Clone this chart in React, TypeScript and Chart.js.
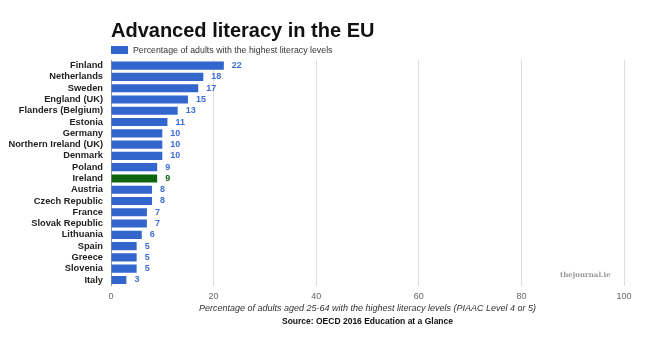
import React, { useEffect, useRef } from "react";
import { Chart, registerables } from "chart.js";

Chart.register(...registerables);

const countries = [
  "Finland", "Netherlands", "Sweden", "England (UK)", "Flanders (Belgium)",
  "Estonia", "Germany", "Northern Ireland (UK)", "Denmark", "Poland",
  "Ireland", "Austria", "Czech Republic", "France", "Slovak Republic",
  "Lithuania", "Spain", "Greece", "Slovenia", "Italy",
];
const values = [22, 18, 17, 15, 13, 11, 10, 10, 10, 9, 9, 8, 8, 7, 7, 6, 5, 5, 5, 3];
const highlight = "Ireland";
const xTicks = [0, 20, 40, 60, 80, 100];

const TITLE = "Advanced literacy in the EU";
const LEGEND = "Percentage of adults with the highest literacy levels";
const X_TITLE = "Percentage of adults aged 25-64 with the highest literacy levels (PIAAC Level 4 or 5)";
const SOURCE = "Source: OECD 2016 Education at a Glance";
const WATERMARK = "thejournal.ie";

const BLUE = "#3366cc";
const GREEN = "#0f650f";
const FONT = "'Liberation Sans', Arial, sans-serif";

export default function App() {
  const ref = useRef<HTMLCanvasElement>(null);
  useEffect(() => {
    const canvas = ref.current!;
    const colors = countries.map((c) => (c === highlight ? GREEN : BLUE));
    const decor = {
      id: "decor",
      afterDatasetsDraw(chart: any) {
        const ctx = chart.ctx;
        const area = chart.chartArea;
        const meta = chart.getDatasetMeta(0);
        ctx.save();
        // value labels
        ctx.font = `bold 9px ${FONT}`;
        ctx.textBaseline = "middle";
        ctx.textAlign = "left";
        meta.data.forEach((bar: any, i: number) => {
          ctx.fillStyle = countries[i] === highlight ? GREEN : "#3d6fd6";
          ctx.fillText(String(values[i]), bar.x + 8, bar.y);
        });
        // title
        ctx.fillStyle = "#111";
        ctx.font = `bold 20px ${FONT}`;
        ctx.textBaseline = "alphabetic";
        ctx.fillText(TITLE, area.left, 37);
        // legend
        ctx.fillStyle = BLUE;
        ctx.fillRect(area.left, 46, 17, 8);
        ctx.fillStyle = "#333";
        ctx.font = `8.8px ${FONT}`;
        ctx.textBaseline = "middle";
        ctx.fillText(LEGEND, area.left + 22, 50.5);
        // source
        ctx.fillStyle = "#111";
        ctx.font = `bold 8.5px ${FONT}`;
        ctx.textAlign = "center";
        ctx.fillText(SOURCE, (area.left + area.right) / 2, 322);
        // watermark
        ctx.fillStyle = "#999";
        ctx.font = `bold 7px 'DejaVu Serif', serif`;
        ctx.textAlign = "left";
        ctx.fillText(WATERMARK, 560, 275);
        ctx.restore();
      },
    };
    const chart = new Chart(canvas, {
      type: "bar",
      data: {
        labels: countries,
        datasets: [
          {
            label: LEGEND,
            data: values,
            backgroundColor: colors,
            barPercentage: 0.72,
            categoryPercentage: 1,
          },
        ],
      },
      options: {
        indexAxis: "y",
        responsive: false,
        animation: false,
        layout: { padding: { top: 60, right: 26, bottom: 36, left: 0 } },
        plugins: { legend: { display: false }, tooltip: { enabled: false } },
        scales: {
          x: {
            min: 0,
            max: 100,
            afterBuildTicks: (s: any) => {
              s.ticks = xTicks.map((v) => ({ value: v }));
            },
            afterFit: (s: any) => {
              s.height = 28.4;
            },
            grid: {
              drawTicks: false,
              color: (c: any) => (c.tick && c.tick.value === 0 ? "#9a9a9a" : "#dddddd"),
              lineWidth: 1,
            },
            border: { display: false },
            ticks: { padding: 6, color: "#666", font: { family: FONT, size: 9 } },
            title: {
              display: true,
              text: X_TITLE,
              color: "#333",
              padding: { top: 2, bottom: 0 },
              font: { family: FONT, size: 9, style: "italic" },
            },
          },
          y: {
            afterFit: (s: any) => {
              s.width = 111;
            },
            grid: { display: false, drawTicks: false },
            border: { display: false },
            ticks: {
              padding: 8,
              autoSkip: false,
              color: "#222",
              font: { family: FONT, size: 9.3, weight: "bold" },
            },
          },
        },
      },
      plugins: [decor],
    });
    return () => chart.destroy();
  }, []);
  return (
    <div style={{ position: "absolute", left: 0, top: 0, width: 650, height: 350, background: "#fff" }}>
      <canvas ref={ref} width={650} height={350} />
    </div>
  );
}
